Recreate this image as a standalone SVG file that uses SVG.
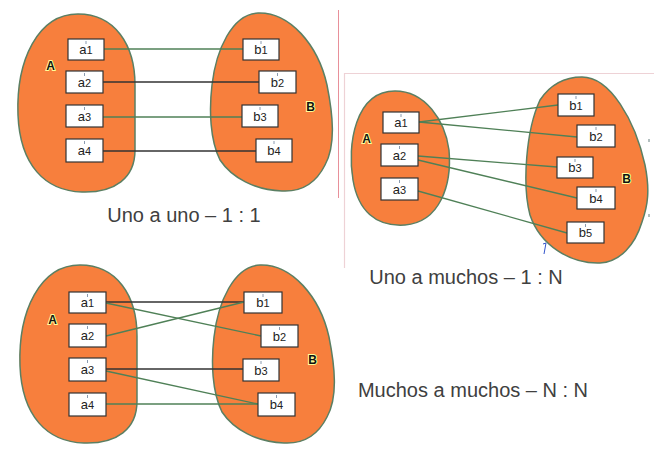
<svg xmlns="http://www.w3.org/2000/svg" width="654" height="454" viewBox="0 0 654 454">
<style>
.blob{fill:#f77f3d;stroke:#5b7f63;stroke-width:1.5}
.box{fill:#fff;stroke:#333;stroke-width:1.2}
.lbl{font-family:"Liberation Sans",Arial,sans-serif;font-size:13px;fill:#222;text-anchor:middle}
.sub{font-size:11px}
.tick{stroke:#8a9bb0;stroke-width:1}
.set{font-family:"Liberation Sans",Arial,sans-serif;font-size:12px;font-weight:bold;fill:#111;stroke:#ffff99;stroke-width:2;paint-order:stroke;text-anchor:middle}
.cap{font-family:"Liberation Sans",Arial,sans-serif;font-size:20px;fill:#404040;text-anchor:middle}
.ln{stroke:#4f8057;stroke-width:1.3;fill:none}
.dk{stroke:#333}
.pk{stroke:#e8909a;stroke-width:1}
.pf{stroke:#eed2d6;stroke-width:1.2;fill:none}
.mk{stroke:#9aa;stroke-width:1.5}
</style>
<rect width="654" height="454" fill="#fff"/>
<line class="pk" x1="338.5" y1="10" x2="338.5" y2="198"/>
<path class="pf" d="M654 73.5 H344.5 V268"/>
<line class="mk" x1="649" y1="139" x2="649" y2="142"/>
<line class="mk" x1="649" y1="214" x2="649" y2="217"/>

<!-- Diagram 1: Uno a uno -->
<g id="d1-setA"><path class="blob" d="M78 14 C115 14 135 45 135 85 L135 150 C135 178 115 193 82 192 C45 191 20 165 18 115 C16 60 38 14 78 14 Z"/><text class="set" x="50.5" y="70">A</text></g>
<g id="d1-setB"><path class="blob" d="M258 13 C290 12 318 45 327 85 C333 115 336 145 325 165 C315 185 300 192 282 191 C255 190 232 178 220 160 C210 140 209 110 212 85 C216 50 232 14 258 13 Z"/><text class="set" x="310.5" y="111">B</text></g>
<g id="d1-conn">
<line class="ln" x1="104" y1="49" x2="243" y2="49"/>
<line class="ln dk" x1="103" y1="82" x2="259" y2="82"/>
<line class="ln" x1="103" y1="117" x2="242" y2="117"/>
<line class="ln dk" x1="103" y1="151" x2="256" y2="151"/>
</g>
<g id="d1-a1"><rect class="box" x="68" y="39" width="36" height="21"/><line class="tick" x1="86" y1="41" x2="86" y2="44"/><text class="lbl" x="86" y="54">a<tspan class="sub">1</tspan></text></g>
<g id="d1-a2"><rect class="box" x="66" y="71" width="37" height="22"/><line class="tick" x1="84.5" y1="73" x2="84.5" y2="76"/><text class="lbl" x="84.5" y="87">a<tspan class="sub">2</tspan></text></g>
<g id="d1-a3"><rect class="box" x="66" y="105" width="37" height="22"/><line class="tick" x1="84.5" y1="107" x2="84.5" y2="110"/><text class="lbl" x="84.5" y="121">a<tspan class="sub">3</tspan></text></g>
<g id="d1-a4"><rect class="box" x="66" y="139" width="37" height="23"/><line class="tick" x1="84.5" y1="141" x2="84.5" y2="144"/><text class="lbl" x="84.5" y="155">a<tspan class="sub">4</tspan></text></g>
<g id="d1-b1"><rect class="box" x="243" y="39" width="36" height="21"/><line class="tick" x1="261" y1="41" x2="261" y2="44"/><text class="lbl" x="261" y="54">b<tspan class="sub">1</tspan></text></g>
<g id="d1-b2"><rect class="box" x="259" y="71" width="37" height="22"/><line class="tick" x1="277.5" y1="73" x2="277.5" y2="76"/><text class="lbl" x="277.5" y="87">b<tspan class="sub">2</tspan></text></g>
<g id="d1-b3"><rect class="box" x="242" y="105" width="36" height="22"/><line class="tick" x1="260" y1="107" x2="260" y2="110"/><text class="lbl" x="260" y="121">b<tspan class="sub">3</tspan></text></g>
<g id="d1-b4"><rect class="box" x="256" y="139" width="36" height="23"/><line class="tick" x1="274" y1="141" x2="274" y2="144"/><text class="lbl" x="274" y="155">b<tspan class="sub">4</tspan></text></g>
<text class="cap" x="184" y="222">Uno a uno – 1 : 1</text>

<!-- Diagram 2: Uno a muchos -->
<g id="d2-setA"><path class="blob" d="M395 91 C425 91 445 120 449 150 C452 185 440 222 405 225 C375 227 358 210 353 180 C347 145 355 91 395 91 Z"/><text class="set" x="366.5" y="143">A</text></g>
<g id="d2-setB"><path class="blob" d="M582 77 C610 77 635 120 645 165 C650 190 648 205 642 222 C635 245 620 262 600 263 C570 264 540 245 530 215 C522 185 526 130 540 100 C552 82 567 77 582 77 Z"/><text class="set" x="626.5" y="183">B</text></g>
<g id="d2-conn">
<line class="ln" x1="419" y1="122" x2="558" y2="105"/>
<line class="ln" x1="419" y1="122" x2="577" y2="137"/>
<line class="ln" x1="418" y1="156" x2="557" y2="167"/>
<line class="ln" x1="418" y1="160" x2="577" y2="198"/>
<line class="ln" x1="418" y1="191" x2="567" y2="233"/>
</g>
<g id="d2-a1"><rect class="box" x="383" y="112" width="36" height="21"/><line class="tick" x1="401" y1="114" x2="401" y2="117"/><text class="lbl" x="401" y="127">a<tspan class="sub">1</tspan></text></g>
<g id="d2-a2"><rect class="box" x="381" y="144" width="37" height="22"/><line class="tick" x1="399.5" y1="146" x2="399.5" y2="149"/><text class="lbl" x="399.5" y="160">a<tspan class="sub">2</tspan></text></g>
<g id="d2-a3"><rect class="box" x="381" y="178" width="37" height="22"/><line class="tick" x1="399.5" y1="180" x2="399.5" y2="183"/><text class="lbl" x="399.5" y="194">a<tspan class="sub">3</tspan></text></g>
<g id="d2-b1"><rect class="box" x="558" y="94" width="36" height="22"/><line class="tick" x1="576" y1="96" x2="576" y2="99"/><text class="lbl" x="576" y="110">b<tspan class="sub">1</tspan></text></g>
<g id="d2-b2"><rect class="box" x="577" y="125" width="38" height="22"/><line class="tick" x1="596" y1="127" x2="596" y2="130"/><text class="lbl" x="596" y="141">b<tspan class="sub">2</tspan></text></g>
<g id="d2-b3"><rect class="box" x="557" y="157" width="36" height="21"/><line class="tick" x1="575" y1="159" x2="575" y2="162"/><text class="lbl" x="575" y="172">b<tspan class="sub">3</tspan></text></g>
<g id="d2-b4"><rect class="box" x="577" y="187" width="38" height="22"/><line class="tick" x1="596" y1="189" x2="596" y2="192"/><text class="lbl" x="596" y="203">b<tspan class="sub">4</tspan></text></g>
<g id="d2-b5"><rect class="box" x="567" y="222" width="37" height="21"/><line class="tick" x1="585.5" y1="224" x2="585.5" y2="227"/><text class="lbl" x="585.5" y="237">b<tspan class="sub">5</tspan></text></g>
<path d="M543 244 L546 243 L544 254" fill="none" stroke="#3355cc" stroke-width="1"/>
<text class="cap" x="466" y="284">Uno a muchos – 1 : N</text>

<!-- Diagram 3: Muchos a muchos -->
<g id="d3-setA"><path class="blob" d="M80 265 C117 265 137 296 137 336 L137 401 C137 429 117 444 84 443 C47 442 22 416 20 366 C18 311 40 265 80 265 Z"/><text class="set" x="52.5" y="324">A</text></g>
<g id="d3-setB"><path class="blob" d="M260 265 C292 264 320 297 329 337 C335 367 338 397 327 417 C317 437 302 444 284 443 C257 442 234 430 222 412 C212 392 211 362 214 337 C218 302 234 266 260 265 Z"/><text class="set" x="312.5" y="364">B</text></g>
<g id="d3-conn">
<line class="ln dk" x1="106" y1="302" x2="244" y2="302"/>
<line class="ln" x1="106" y1="303" x2="261" y2="336"/>
<line class="ln" x1="106" y1="336" x2="244" y2="302"/>
<line class="ln dk" x1="106" y1="369" x2="243" y2="369"/>
<line class="ln" x1="106" y1="371" x2="258" y2="404"/>
<line class="ln" x1="106" y1="404" x2="258" y2="404"/>
</g>
<g id="d3-a1"><rect class="box" x="69" y="292" width="37" height="21"/><line class="tick" x1="87.5" y1="294" x2="87.5" y2="297"/><text class="lbl" x="87.5" y="307">a<tspan class="sub">1</tspan></text></g>
<g id="d3-a2"><rect class="box" x="69" y="324" width="37" height="23"/><line class="tick" x1="87.5" y1="326" x2="87.5" y2="329"/><text class="lbl" x="87.5" y="340">a<tspan class="sub">2</tspan></text></g>
<g id="d3-a3"><rect class="box" x="69" y="358" width="37" height="23"/><line class="tick" x1="87.5" y1="360" x2="87.5" y2="363"/><text class="lbl" x="87.5" y="374">a<tspan class="sub">3</tspan></text></g>
<g id="d3-a4"><rect class="box" x="69" y="393" width="37" height="23"/><line class="tick" x1="87.5" y1="395" x2="87.5" y2="398"/><text class="lbl" x="87.5" y="409">a<tspan class="sub">4</tspan></text></g>
<g id="d3-b1"><rect class="box" x="244" y="292" width="38" height="21"/><line class="tick" x1="263" y1="294" x2="263" y2="297"/><text class="lbl" x="263" y="307">b<tspan class="sub">1</tspan></text></g>
<g id="d3-b2"><rect class="box" x="261" y="325" width="37" height="22"/><line class="tick" x1="279.5" y1="327" x2="279.5" y2="330"/><text class="lbl" x="279.5" y="341">b<tspan class="sub">2</tspan></text></g>
<g id="d3-b3"><rect class="box" x="243" y="359" width="36" height="22"/><line class="tick" x1="261" y1="361" x2="261" y2="364"/><text class="lbl" x="261" y="375">b<tspan class="sub">3</tspan></text></g>
<g id="d3-b4"><rect class="box" x="258" y="393" width="37" height="23"/><line class="tick" x1="276.5" y1="395" x2="276.5" y2="398"/><text class="lbl" x="276.5" y="409">b<tspan class="sub">4</tspan></text></g>
<text class="cap" x="473" y="397">Muchos a muchos – N : N</text>
</svg>
